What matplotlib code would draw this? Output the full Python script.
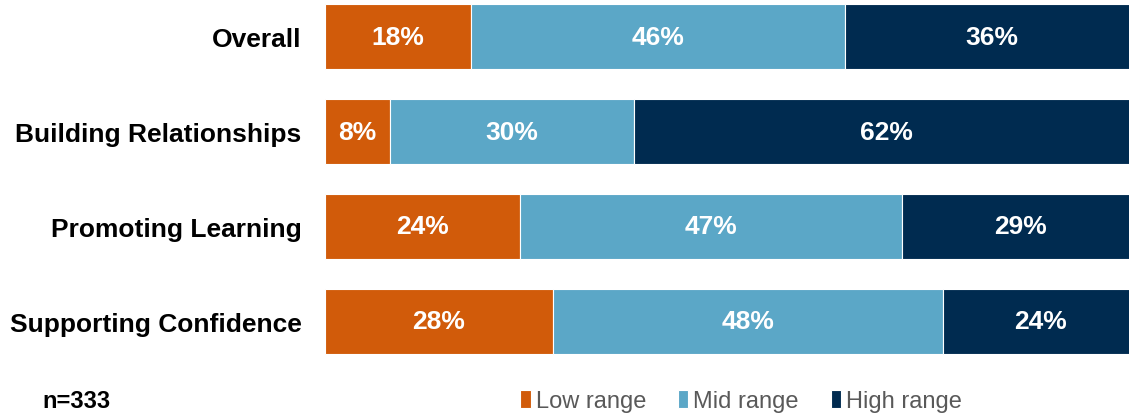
import matplotlib.pyplot as plt
import numpy as np

plt.rcParams['font.family'] = ['Liberation Sans', 'DejaVu Sans']

# Data
categories = ['Overall', 'Building Relationships', 'Promoting Learning', 'Supporting Confidence']
low = [18, 8, 24, 28]
mid = [46, 30, 47, 48]
high = [36, 62, 29, 24]
series_names = ['Low range', 'Mid range', 'High range']
colors = ['#D15B0A', '#5BA7C7', '#002B50']

fig = plt.figure(figsize=(11.29, 4.14), dpi=100)
ax = fig.add_axes([325 / 1129, 44 / 414, 813 / 1129, 380 / 414])

y = np.arange(len(categories))
left = np.zeros(len(categories))
for vals, name, col in zip([low, mid, high], series_names, colors):
    bars = ax.barh(y, vals, left=left, height=0.68, color=col, label=name,
                   edgecolor='white', linewidth=0.8)
    for b, v in zip(bars, vals):
        ax.text(b.get_x() + b.get_width() / 2, b.get_y() + b.get_height() / 2,
                f'{v}%', ha='center', va='center', color='white',
                fontsize=19, fontweight='bold')
    left += np.array(vals)

ax.set_xlim(0, 100)
ax.set_ylim(3.5, -0.5)
ax.set_yticks(y)
ax.set_yticklabels(categories, fontsize=19, fontweight='bold')
ax.tick_params(axis='y', length=0, pad=17)
ax.set_xticks([])
for s in ax.spines.values():
    s.set_visible(False)

fig.text(42 / 1129, 1 - 402 / 414, 'n=333', fontsize=17, fontweight='bold',
         va='center', ha='left')

leg = fig.legend(loc='center', bbox_to_anchor=(741 / 1129, 1 - 402 / 414), ncol=3,
                 frameon=False, fontsize=17, handlelength=0.45, handleheight=0.8,
                 handletextpad=0.2, columnspacing=1.35, labelcolor='#595959')

fig.savefig('out.png', dpi=100)
